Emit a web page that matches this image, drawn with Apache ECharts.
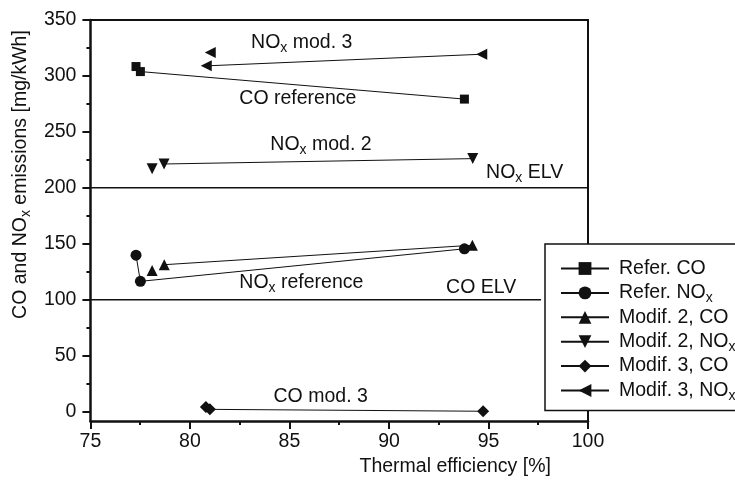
<!DOCTYPE html>
<html>
<head>
<meta charset="utf-8">
<script src="https://cdn.jsdelivr.net/npm/echarts@6/dist/echarts.min.js"></script>
<style>
  html, body { margin: 0; padding: 0; background: #fff; }
  #chart { width: 735px; height: 482px; }
</style>
</head>
<body>
<div id="chart"></div>
<script>
// Emission measurements: [thermal efficiency %, emission mg/kWh]; null breaks the line
const referCO   = [[77.29, 308.4], [77.51, 303.9], [93.79, 279.3]];
const referNOx  = [[77.29, 139.8], [77.51, 116.4], [93.79, 145.5]];
const mod2CO    = [[78.10, 126.2], null, [78.71, 131.3], [94.19, 148.7]];
const mod2NOx   = [[78.10, 217.1], null, [78.70, 221.3], [94.21, 226.1]];
const mod3CO    = [[80.80, 4.0], [81.00, 2.0], [94.73, 0.3]];
const mod3NOx   = [[81.02, 320.9], null, [80.82, 309.0], [94.66, 319.4]];

// Emission limit values
const noxELV = [[75, 200], [100, 200]];
const coELV  = [[75, 100], [97.64, 100]];

// Axis ticks
const xMin = 75, xMax = 100, xStep = 5;
const yMin = -8.5, yMax = 350;
const yMajorTicks = [0, 50, 100, 150, 200, 250, 300, 350];
const yMinorTicks = [25, 75, 125, 175, 225, 275, 325];

// In-plot annotations (anchored at the left edge of the text)
const noteX    = [83.07, 82.48, 84.04, 94.88, 82.48, 92.87, 84.20];
const noteY    = [329.8, 279.4, 238.5, 213.9, 115.2, 111.0, 13.0];
const noteText = ['NOx mod. 3', 'CO reference', 'NOx mod. 2', 'NOx ELV',
                  'NOx reference', 'CO ELV', 'CO mod. 3'];

const FONT = 'Liberation Sans, Arial, Helvetica, sans-serif';
const INK = '#111';
const FS = 19.5;

// NOx written with a subscript x
function richText(str) {
  return str.split('NOx').map(function (part) {
    return part ? '{a|' + part + '}' : '';
  }).join('{a|NO}{s|x}');
}
const rich = {
  a: { fontSize: FS, fontFamily: FONT, color: INK, lineHeight: 23 },
  s: { fontSize: 14, fontFamily: FONT, color: INK, lineHeight: 12, padding: [11, 0, 0, 0] }
};

function gaps(arr) {
  return arr.map(function (p) { return p ? p : ['-', '-']; });
}

function dataSeries(name, data, symbol, size, rotate) {
  return {
    name: name,
    type: 'line',
    data: gaps(data),
    symbol: symbol,
    symbolSize: size,
    symbolRotate: rotate || 0,
    connectNulls: false,
    lineStyle: { color: INK, width: 1 },
    itemStyle: { color: INK, opacity: 1 },
    emphasis: { disabled: true },
    z: 3
  };
}

function limitSeries(data) {
  return {
    type: 'line',
    data: data,
    symbol: 'none',
    lineStyle: { color: INK, width: 1.5 },
    emphasis: { disabled: true },
    silent: true,
    z: 2
  };
}

const chart = echarts.init(document.getElementById('chart'), null, { renderer: 'canvas' });

chart.setOption({
  animation: false,
  backgroundColor: '#fff',
  textStyle: { fontFamily: FONT, color: INK },
  grid: { left: 90, right: 147, top: 20, bottom: 60, containLabel: false },
  legend: {
    data: ['Refer. CO', 'Refer. NOx', 'Modif. 2, CO', 'Modif. 2, NOx', 'Modif. 3, CO', 'Modif. 3, NOx'],
    orient: 'vertical',
    left: 545,
    top: 244,
    padding: [14.5, 80, 7.5, 15],
    itemWidth: 48,
    itemHeight: 16,
    itemGap: 1.9,
    backgroundColor: '#fff',
    borderColor: INK,
    borderWidth: 1.5,
    borderRadius: 0,
    selectedMode: false,
    formatter: function (name) { return richText(name); },
    textStyle: { fontSize: FS, fontFamily: FONT, color: INK, padding: [0, 0, 0, 5], rich: rich }
  },
  xAxis: [{
    type: 'value',
    position: 'bottom',
    min: xMin, max: xMax, interval: xStep,
    name: 'Thermal efficiency [%]',
    nameLocation: 'middle',
    nameGap: 33,
    nameTextStyle: { fontSize: FS, fontFamily: FONT, color: INK, padding: [0, 0, 0, 232] },
    axisLine: { show: true, onZero: false, lineStyle: { color: INK, width: 2.5 } },
    axisTick: { show: true, inside: false, length: 8, lineStyle: { color: INK, width: 2 } },
    minorTick: { show: true, splitNumber: 2, length: 4, lineStyle: { color: INK, width: 2 } },
    axisLabel: { fontSize: FS, fontFamily: FONT, color: INK, margin: 11 },
    splitLine: { show: false },
    minorSplitLine: { show: false }
  }, {
    type: 'value',
    position: 'top',
    min: xMin, max: xMax, interval: xStep,
    axisLine: { show: true, onZero: false, lineStyle: { color: INK, width: 2 } },
    axisTick: { show: false },
    axisLabel: { show: false },
    splitLine: { show: false }
  }],
  yAxis: [{
    type: 'value',
    position: 'left',
    min: yMin, max: yMax,
    name: richText('CO and NOx emissions [mg/kWh]'),
    nameLocation: 'middle',
    nameGap: 58,
    nameTextStyle: { fontSize: FS, fontFamily: FONT, color: INK, padding: [0, 0, 0, 92], rich: rich },
    axisLine: { show: true, onZero: false, lineStyle: { color: INK, width: 2.5 } },
    axisTick: { show: true, inside: false, length: 8, customValues: yMajorTicks, lineStyle: { color: INK, width: 2 } },
    axisLabel: { fontSize: FS, fontFamily: FONT, color: INK, margin: 14, customValues: yMajorTicks },
    splitLine: { show: false }
  }, {
    type: 'value',
    position: 'left',
    min: yMin, max: yMax,
    axisLine: { show: false },
    axisTick: { show: true, inside: false, length: 4, customValues: yMinorTicks, lineStyle: { color: INK, width: 2 } },
    axisLabel: { show: false },
    splitLine: { show: false }
  }, {
    type: 'value',
    position: 'right',
    min: yMin, max: yMax,
    axisLine: { show: true, onZero: false, lineStyle: { color: INK, width: 2 } },
    axisTick: { show: false },
    axisLabel: { show: false },
    splitLine: { show: false }
  }],
  series: [
    limitSeries(noxELV),
    limitSeries(coELV),
    dataSeries('Refer. CO', referCO, 'rect', 9),
    dataSeries('Refer. NOx', referNOx, 'circle', 11),
    dataSeries('Modif. 2, CO', mod2CO, 'triangle', 11),
    dataSeries('Modif. 2, NOx', mod2NOx, 'triangle', 11, 180),
    dataSeries('Modif. 3, CO', mod3CO, 'diamond', 12),
    dataSeries('Modif. 3, NOx', mod3NOx, 'triangle', 11, 90),
    {
      type: 'scatter',
      silent: true,
      symbolSize: 0,
      z: 4,
      itemStyle: { opacity: 1, color: INK },
      data: noteText.map(function (t, i) { return { value: [noteX[i], noteY[i]], text: t }; }),
      label: {
        show: true,
        position: [0, 0],
        align: 'left',
        verticalAlign: 'middle',
        color: INK,
        opacity: 1,
        formatter: function (p) { return richText(p.data.text); },
        rich: rich
      },
      emphasis: { disabled: true }
    }
  ]
});
</script>
</body>
</html>
